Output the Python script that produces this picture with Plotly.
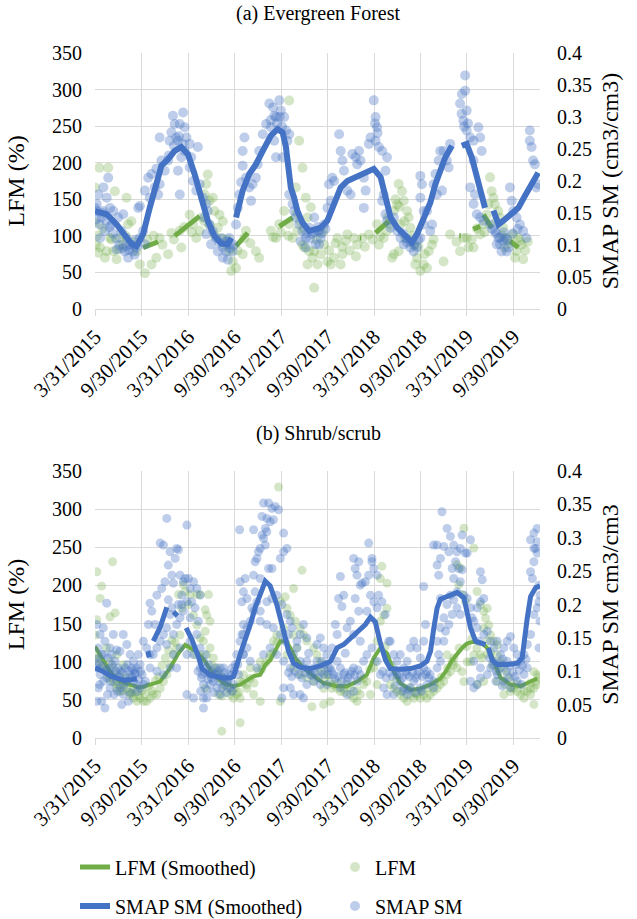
import pandas as pd
import plotly.graph_objects as go

START = pd.Timestamp("2015-03-31")
END_DAY = 1748

TICK_DATES = ["2015-03-31", "2015-09-30", "2016-03-31", "2016-09-30", "2017-03-31",
              "2017-09-30", "2018-03-31", "2018-09-30", "2019-03-31", "2019-09-30"]
TICK_TEXT = ["3/31/2015", "9/30/2015", "3/31/2016", "9/30/2016", "3/31/2017",
             "9/30/2017", "3/31/2018", "9/30/2018", "3/31/2019", "9/30/2019"]
LFM_TICKS = [0, 50, 100, 150, 200, 250, 300, 350]
SM_TICKS = [0, 0.05, 0.1, 0.15, 0.2, 0.25, 0.3, 0.35, 0.4]

# ---------------- Panel (a) Evergreen Forest ----------------
# (days since 3/31/2015, SMAP SM cm3/cm3)
A_SMAP_PTS = [(0,0.158),(7,0.164),(13,0.179),(33,0.190),(52,0.205),(46,0.174),(59,0.158),(26,0.143),(39,0.122),(20,0.111),(72,0.153),(65,0.132),(91,0.143),(111,0.148),(104,0.122),(124,0.111),(137,0.101),(85,0.093),(150,0.090),(130,0.080),(163,0.096),(176,0.111),(170,0.158),(189,0.122),(196,0.101),(156,0.085),(117,0.090),(7,0.153),(33,0.153),
(176,0.161),(196,0.185),(209,0.205),(222,0.211),(235,0.190),(248,0.179),(254,0.195),(215,0.174),(241,0.219),(261,0.232),(274,0.216),(287,0.232),(300,0.276),(306,0.302),(313,0.289),(319,0.268),(326,0.263),(293,0.263),(346,0.307),(352,0.284),(359,0.268),(333,0.289),(339,0.237),(326,0.216),(352,0.247),(372,0.258),(378,0.237),(404,0.253),(254,0.268),(333,0.179),(372,0.221),(385,0.200),(398,0.185),(411,0.195),(424,0.174),(437,0.164),(430,0.143),(443,0.153),(450,0.132),(463,0.122),(476,0.111),(489,0.104),(502,0.096),(515,0.090),(528,0.101),(502,0.080),(482,0.090),(456,0.101),(437,0.117),(522,0.077),(541,0.090),(528,0.111),(554,0.132),(561,0.158),(567,0.179),(574,0.198),(580,0.224),(580,0.247),(587,0.268),(593,0.205),(606,0.190),(613,0.169),(619,0.195),(632,0.205),(639,0.226),(645,0.247),(659,0.273),(672,0.289),(685,0.321),(704,0.302),(724,0.326),(730,0.310),(711,0.300),(691,0.284),(743,0.300),(750,0.279),(756,0.263),(763,0.273),(704,0.263),(711,0.237),(737,0.237),(763,0.179),(776,0.164),(782,0.153),(789,0.143),(802,0.132),(815,0.122),(828,0.111),(841,0.127),(854,0.117),(867,0.101),(880,0.122),(828,0.096),(808,0.106),
(861,0.143),(874,0.122),(887,0.111),(900,0.132),(880,0.101),(913,0.158),(926,0.169),(919,0.195),(932,0.205),(939,0.200),(959,0.273),(965,0.247),(972,0.232),(978,0.216),(991,0.185),(1004,0.179),(1011,0.242),(1024,0.237),(1030,0.226),(1037,0.247),(1043,0.232),(1056,0.205),(1063,0.185),(1056,0.158),(1076,0.258),(1082,0.268),(1095,0.326),(1102,0.300),(1108,0.284),(1102,0.263),(1115,0.253),(1128,0.247),(1147,0.237),(1141,0.216),(1134,0.179),(1128,0.169),(1141,0.148),(1147,0.138),(1161,0.127),(1174,0.143),(1187,0.122),(1200,0.111),(1213,0.101),(1226,0.104),(1239,0.096),(1252,0.090),(1265,0.096),(1278,0.111),(1291,0.132),(1278,0.174),(1284,0.195),(1278,0.208),(1291,0.153),(1304,0.153),(1317,0.122),(1324,0.132),(1330,0.195),(1337,0.211),(1350,0.232),(1356,0.247),(1369,0.247),(1382,0.232),(1395,0.258),(1389,0.221),(1363,0.185),(1343,0.179),(1434,0.321),(1441,0.336),(1454,0.365),(1454,0.341),(1460,0.310),(1447,0.294),(1460,0.279),(1474,0.268),(1487,0.263),(1506,0.284),(1513,0.268),(1519,0.247),(1487,0.232),(1474,0.190),(1493,0.179),(1487,0.164),(1500,0.148),(1513,0.143),(1526,0.138),(1552,0.132),(1571,0.122),(1584,0.111),(1591,0.101),(1604,0.106),(1617,0.090),(1630,0.190),(1637,0.169),(1643,0.153),(1656,0.143),(1669,0.132),(1682,0.122),(1695,0.111),(1708,0.279),(1708,0.263),(1715,0.253),(1721,0.232),(1728,0.226),(1734,0.190),(1741,0.195),(1578,0.101),(1597,0.090),(1610,0.111),(1624,0.096),
(5,0.140),(18,0.132),(28,0.150),(44,0.138),(57,0.128),(70,0.118),(83,0.110),(96,0.100),(109,0.095),(122,0.098),(135,0.092),(148,0.100),(160,0.108),(500,0.110),(515,0.105),(530,0.095),(545,0.100),(830,0.118),(845,0.110),(860,0.120),(875,0.128),(890,0.118),(905,0.125),(1210,0.118),(1225,0.110),(1240,0.105),(1255,0.100),(1270,0.108),(1560,0.125),(1575,0.118),(1590,0.112),(1605,0.120),(1620,0.108),(1640,0.118),(1660,0.125),(290,0.240),(310,0.255),(330,0.270),(345,0.258),(690,0.295),(700,0.315),(715,0.290),(725,0.300),(735,0.285),(1100,0.290),(1110,0.275),(1440,0.305),(1450,0.285),(1465,0.290)]

# (days, LFM %)
A_LFM_PTS = [(17,193),(52,193),(0,166),(78,161),(0,118),(3,88),(13,77),(39,70),(72,79),(85,68),(98,97),(124,152),(130,116),(143,120),(111,88),(163,79),(176,61),(196,49),(222,61),(241,70),(254,97),(287,75),(300,104),(333,107),(339,84),(372,129),(385,116),(398,97),(411,107),(430,120),(443,184),(437,171),(430,157),(450,148),(463,152),(469,134),(489,129),(502,120),(482,111),(496,97),(509,88),(528,79),(541,65),(554,56),(535,52),(580,75),(587,97),(593,107),(632,79),(645,70),(691,107),(711,97),(724,116),(743,134),(763,285),(802,230),(815,193),(789,166),(828,152),(835,125),(848,139),(795,107),(776,97),(815,88),(841,79),(854,70),(835,61),(861,29),(822,84),(763,116),(20,84),(59,97),(46,79),
(861,79),(874,61),(887,75),(900,88),(913,65),(926,61),(939,70),(965,61),(972,75),(952,97),(985,93),(991,102),(1017,97),(1030,88),(1050,97),(1076,102),(1108,116),(1115,88),(1134,97),(1147,107),(1161,116),(1174,134),(1193,171),(1206,161),(1187,143),(1213,148),(1226,134),(1232,125),(1239,111),(1219,97),(1200,116),(1174,75),(1167,70),(1193,79),(1252,88),(1265,70),(1278,52),(1291,61),(1304,56),(1258,61),(1311,79),(1324,88),(1369,65),(1395,102),(1434,79),(1447,97),(1460,97),(1467,84),(1487,84),(1513,102),(1526,116),(1539,129),(1552,180),(1558,161),(1565,152),(1545,143),(1571,143),(1584,134),(1591,125),(1604,111),(1617,97),(1610,84),(1643,102),(1656,79),(1669,93),(1676,88),(1650,70),(1682,68),(1663,97),
(8,100),(30,110),(65,95),(95,82),(120,100),(150,92),(205,95),(230,100),(265,88),(310,95),(350,112),(380,105),(420,125),(450,115),(470,100),(520,95),(560,80),(610,90),(700,98),(730,105),(760,100),(790,130),(805,120),(820,110),(870,95),(895,105),(920,80),(945,90),(970,85),(1000,80),(1025,72),(1060,85),(1090,95),(1120,100),(1150,125),(1180,150),(1195,140),(1215,120),(1245,100),(1270,85),(1295,75),(1330,95),(1420,92),(1480,95),(1500,110),(1530,105),(1575,120),(1600,100),(1630,90),(1690,80),(1700,92)]

A_SMAP_SMOOTH = [(0,0.153),(46,0.148),(85,0.132),(111,0.119),(143,0.102),(163,0.098),(189,0.117),(215,0.158),(241,0.195),(261,0.224),(287,0.234),(313,0.247),(339,0.253),(365,0.242),(391,0.211),(417,0.174),(443,0.138),(469,0.114),(496,0.102),(522,0.101),(535,0.111),(545,None),(554,0.143),(580,0.185),(606,0.211),(632,0.226),(659,0.247),(691,0.271),(717,0.281),(737,0.276),(750,0.253),(763,0.213),(769,0.190),(782,0.174),(795,0.153),(815,0.135),(841,0.122),(861,0.124),(887,0.127),(913,0.138),(939,0.164),(965,0.190),(991,0.200),(1030,0.207),(1063,0.213),(1095,0.219),(1122,0.206),(1141,0.174),(1161,0.143),(1187,0.127),(1219,0.114),(1245,0.104),(1265,0.117),(1291,0.143),(1317,0.166),(1337,0.195),(1356,0.216),(1376,0.237),(1402,0.255),(1420,None),(1441,0.255),(1460,0.258),(1480,0.237),(1500,0.208),(1519,0.179),(1532,0.158),(1548,None),(1565,0.154),(1585,0.132),(1604,0.138),(1630,0.148),(1663,0.158),(1689,0.177),(1715,0.195),(1741,0.213)]

A_LFM_SMOOTH = [(189,84),(215,87),(248,92),(280,None),(313,100),(340,108),(370,117),(411,127),(480,None),(554,86),(580,95),(600,104),(660,None),(724,113),(750,119),(776,125),(900,None),(1040,97),(1046,97),(1070,None),(1102,104),(1128,112),(1154,120),(1300,None),(1431,100),(1437,100),(1460,None),(1486,109),(1513,113),(1519,None),(1526,129),(1558,111),(1600,None),(1630,93),(1663,84)]

# ---------------- Panel (b) Shrub/scrub ----------------
B_SMAP_PTS = [(7,0.170),(20,0.155),(33,0.165),(46,0.202),(13,0.135),(26,0.125),(39,0.145),(59,0.135),(72,0.155),(85,0.132),(98,0.130),(111,0.155),(125,0.140),(138,0.125),(151,0.115),(164,0.105),(170,0.125),(177,0.110),(7,0.105),(20,0.095),(33,0.085),(13,0.075),(26,0.055),(39,0.045),(7,0.055),(59,0.105),(72,0.095),(85,0.085),(98,0.075),(111,0.065),(105,0.050),(125,0.085),(138,0.095),(151,0.085),(164,0.080),(177,0.075),(131,0.055),(59,0.075),(46,0.090),(79,0.115),(92,0.105),(118,0.105),(144,0.105),(157,0.095),(52,0.120),(66,0.125),
(190,0.145),(203,0.135),(216,0.125),(210,0.170),(216,0.202),(223,0.190),(236,0.170),(243,0.214),(256,0.292),(269,0.289),(282,0.329),(288,0.259),(295,0.279),(302,0.244),(308,0.232),(315,0.269),(321,0.284),(328,0.282),(334,0.244),(341,0.214),(347,0.234),(354,0.239),(361,0.319),(367,0.239),(374,0.224),(380,0.204),(387,0.234),(393,0.195),(400,0.224),(406,0.175),(413,0.214),(374,0.180),(361,0.204),(347,0.190),(334,0.180),(321,0.170),(308,0.155),(295,0.185),(282,0.165),(269,0.155),(256,0.145),(243,0.135),(229,0.125),(282,0.140),(308,0.125),(334,0.135),(361,0.125),(216,0.105),(243,0.100),(269,0.095),(295,0.105),(321,0.105),(374,0.145),(387,0.125),(400,0.155),(413,0.135),(361,0.065),(387,0.060),(426,0.060),(439,0.060),(426,0.045),(262,0.224),(275,0.234),(288,0.207),(302,0.195),(328,0.200),(341,0.200),
(426,0.115),(439,0.105),(452,0.095),(465,0.085),(479,0.095),(492,0.105),(505,0.090),(518,0.085),(531,0.075),(544,0.080),(433,0.125),(446,0.110),(459,0.100),(472,0.105),(485,0.085),(498,0.075),(511,0.080),(524,0.095),(538,0.105),(551,0.110),(557,0.125),(570,0.145),(577,0.155),(583,0.170),(577,0.204),(570,0.234),(568,0.312),(583,0.125),(564,0.095),(420,0.095),(426,0.080),(413,0.105),(452,0.080),(479,0.075),(505,0.105),
(583,0.155),(597,0.165),(610,0.175),(623,0.190),(636,0.204),(629,0.219),(623,0.244),(636,0.269),(642,0.279),(649,0.284),(662,0.299),(656,0.332),(662,0.352),(682,0.352),(695,0.344),(708,0.347),(721,0.342),(675,0.329),(688,0.324),(701,0.327),(669,0.314),(675,0.309),(656,0.304),(623,0.312),(741,0.307),(728,0.269),(741,0.279),(754,0.284),(669,0.289),(682,0.254),(695,0.254),(649,0.239),(629,0.264),(590,0.239),(583,0.219),(597,0.209),(616,0.195),(649,0.190),(675,0.204),(695,0.209),(714,0.214),(734,0.200),(754,0.185),(767,0.175),(774,0.165),(760,0.155),(747,0.145),(728,0.155),(701,0.165),(675,0.170),(649,0.175),(597,0.135),(583,0.125),(610,0.115),(636,0.105),(662,0.125),(688,0.135),(714,0.125),(741,0.115),(767,0.105),(780,0.125),(793,0.135),(806,0.115),(819,0.105),(832,0.115),(846,0.095),(859,0.105),(872,0.115),(885,0.150),(898,0.135),(911,0.125),(924,0.105),(937,0.095),(951,0.115),(964,0.105),(977,0.095),(990,0.085),(1003,0.095),(1016,0.105),(741,0.075),(767,0.075),(780,0.065),(806,0.065),(819,0.060),(734,0.060),(832,0.080),(859,0.085),(885,0.080),(911,0.080),(964,0.075),(990,0.065),(1016,0.070),(1029,0.085),(1042,0.095),(1055,0.115),(1068,0.125),(1088,0.135),(1108,0.115),(1121,0.095),(1134,0.075),(1147,0.065),(964,0.242),(977,0.214),(957,0.209),(970,0.197),(1016,0.269),(1022,0.254),(1036,0.264),(1029,0.244),(1042,0.229),(1049,0.232),(1062,0.234),(1075,0.244),(1095,0.254),(1088,0.269),(1108,0.244),(1082,0.214),(1095,0.204),(1108,0.195),(1068,0.190),(1036,0.190),(1022,0.209),(1003,0.175),(990,0.165),(1016,0.155),(1042,0.145),(1075,0.292),(1088,0.264),(1114,0.214),(1127,0.204),(1140,0.185),(1154,0.145),(944,0.170),(951,0.155),(931,0.135),(983,0.127),(832,0.150),(872,0.140),(839,0.127),(793,0.145),(806,0.155),(819,0.170),(892,0.115),(898,0.095),(918,0.095),
(1160,0.145),(1173,0.125),(1186,0.115),(1199,0.125),(1213,0.105),(1226,0.115),(1239,0.135),(1252,0.145),(1265,0.135),(1278,0.120),(1291,0.145),(1298,0.170),(1291,0.227),(1186,0.095),(1199,0.085),(1226,0.095),(1252,0.085),(1265,0.095),(1291,0.105),(1304,0.100),(1317,0.095),(1330,0.085),(1213,0.075),(1239,0.075),(1278,0.075),(1304,0.080),(1173,0.065),(1226,0.065),(1330,0.075),(1344,0.105),(1357,0.115),(1344,0.145),(1350,0.125),(1370,0.145),(1357,0.165),(1370,0.180),(1383,0.200),(1396,0.214),(1409,0.207),(1422,0.195),(1435,0.185),(1403,0.185),(1390,0.170),(1377,0.160),(1357,0.209),(1344,0.259),(1350,0.244),(1357,0.269),(1330,0.289),(1344,0.289),(1363,0.339),(1383,0.314),(1396,0.302),(1409,0.289),(1370,0.287),(1390,0.279),(1403,0.254),(1416,0.264),(1422,0.279),(1435,0.284),(1442,0.304),(1455,0.277),(1462,0.277),(1475,0.297),(1429,0.254),(1442,0.252),(1409,0.239),(1435,0.234),(1422,0.219),(1449,0.214),(1462,0.209),(1475,0.195),(1481,0.180),(1488,0.175),(1501,0.195),(1514,0.204),(1527,0.209),(1514,0.249),(1521,0.237),(1501,0.165),(1508,0.145),(1527,0.155),(1541,0.160),(1554,0.145),(1567,0.135),(1580,0.145),(1593,0.125),(1606,0.135),(1619,0.145),(1632,0.152),(1645,0.135),(1658,0.125),(1672,0.115),(1685,0.125),(1698,0.140),(1711,0.155),(1724,0.185),(1737,0.195),(1744,0.204),(1748,0.175),(1744,0.135),(1711,0.249),(1718,0.239),(1724,0.264),(1737,0.277),(1731,0.284),(1737,0.294),(1724,0.307),(1737,0.314),(1711,0.297),(1724,0.284),(1744,0.229),(1748,0.214),(1554,0.105),(1580,0.095),(1606,0.085),(1632,0.075),(1658,0.085),(1685,0.095),(1698,0.105),(1488,0.115),(1514,0.105),(1541,0.095),(1475,0.085),(1488,0.075),(1501,0.080),(1514,0.090),(1567,0.115),(1593,0.105),(1619,0.115),
(3,0.118),(16,0.112),(29,0.108),(42,0.102),(55,0.098),(68,0.110),(81,0.100),(94,0.092),(107,0.098),(120,0.088),(133,0.100),(146,0.092),(159,0.098),(172,0.088),(185,0.095),(198,0.085),(36,0.125),(62,0.085),(88,0.070),(114,0.078),(140,0.068),(166,0.070),(192,0.080),(18,0.080),(49,0.065),(75,0.065),(101,0.100),(127,0.110),(153,0.102),(179,0.100),
(405,0.100),(418,0.090),(431,0.098),(444,0.088),(457,0.090),(470,0.095),(483,0.100),(496,0.092),(509,0.098),(522,0.088),(535,0.094),(548,0.100),(561,0.110),(415,0.070),(440,0.072),(466,0.068),(492,0.065),(517,0.068),(540,0.070),
(760,0.098),(773,0.092),(786,0.100),(799,0.095),(812,0.090),(825,0.098),(838,0.102),(851,0.094),(864,0.098),(877,0.090),(890,0.100),(903,0.110),(916,0.105),(929,0.100),(942,0.088),(955,0.092),(968,0.085),(981,0.098),(994,0.090),(1007,0.100),(1020,0.094),(1033,0.102),
(1130,0.100),(1143,0.090),(1156,0.098),(1169,0.092),(1182,0.100),(1195,0.095),(1208,0.090),(1221,0.100),(1234,0.092),(1247,0.098),(1260,0.090),(1273,0.100),(1286,0.092),(1299,0.095),(1312,0.090),(1179,0.078),(1205,0.070),(1231,0.072),(1257,0.068),(1283,0.070),
(1550,0.120),(1563,0.110),(1576,0.100),(1589,0.112),(1602,0.118),(1615,0.100),(1628,0.108),(1641,0.098),(1654,0.110),(1667,0.102),(1680,0.108),(1693,0.118),(1575,0.085),(1600,0.078),(1625,0.090),(1650,0.092),(1675,0.080)]

B_LFM_PTS = [(7,218),(69,231),(26,199),(20,183),(79,164),(59,159),(7,155),(0,135),(13,100),(33,92),(52,83),(72,74),(85,65),(98,61),(111,70),(125,65),(138,57),(151,52),(164,48),(177,52),(190,48),(203,48),(216,52),(229,57),(243,57),(256,65),(269,74),(282,83),(295,96),(308,109),(321,118),(334,135),(341,170),(328,188),(347,201),(354,192),(374,188),(400,188),(413,188),(433,168),(439,161),(446,188),(452,153),(433,140),(426,127),(413,131),(400,148),(387,161),(367,175),(374,118),(393,109),(413,109),(439,109),(452,118),(465,105),(479,92),(492,83),(505,74),(518,65),(531,57),(544,52),(557,57),(570,52),(485,57),(498,55),(433,65),(498,9),(570,20),(59,100),(72,92),(98,83),(125,79),(151,65),(46,118),(85,109),(111,96),
(721,329),(813,220),(780,196),(747,185),(728,179),(754,170),(767,161),(787,153),(806,144),(819,135),(832,127),(780,135),(793,118),(741,144),(714,135),(701,127),(688,109),(649,100),(610,92),(583,83),(570,74),(597,65),(623,57),(649,48),(728,48),(859,118),(872,109),(885,100),(898,92),(911,83),(924,74),(937,70),(951,65),(964,61),(977,65),(990,70),(1003,57),(1016,52),(1029,48),(1042,57),(852,41),(898,44),(924,48),(1095,92),(1108,127),(1121,153),(1134,161),(1147,170),(1127,225),(1147,203),(1121,209),(1108,70),(1082,57),(1055,70),(1068,74),(754,109),(780,92),(806,83),(832,79),(859,74),(898,65),
(1449,275),(1488,249),(1422,227),(1435,223),(1429,201),(1442,188),(1455,179),(1501,192),(1514,175),(1527,166),(1534,157),(1547,148),(1554,135),(1567,127),(1580,122),(1527,144),(1541,127),(1554,113),(1580,109),(1593,100),(1606,92),(1619,83),(1632,74),(1645,65),(1658,61),(1672,57),(1685,52),(1698,61),(1711,65),(1724,87),(1731,74),(1737,83),(1724,65),(1711,57),(1632,61),(1606,57),(1580,74),(1488,109),(1514,109),(1475,100),(1462,100),(1422,92),(1409,96),(1396,87),(1383,83),(1370,74),(1357,70),(1344,65),(1330,61),(1317,57),(1304,52),(1291,57),(1278,52),(1265,57),(1252,52),(1239,57),(1226,48),(1213,52),(1199,57),(1186,61),(1173,65),(1160,70),(1383,109),(1403,100),(1501,70),(1527,74),(1724,44),(1541,170),(1449,74),(1442,87),
(3,110),(16,105),(29,95),(42,88),(55,78),(68,80),(81,72),(94,70),(107,62),(120,72),(133,60),(146,58),(159,60),(172,56),(185,62),(198,58),(211,68),(224,62),(237,75),(250,80),(263,95),(276,105),(289,115),(302,128),(315,125),
(460,95),(475,85),(490,78),(505,68),(520,72),(535,62),(550,66),(565,60),(580,72),(595,70),(610,78),(625,72),(640,88),(655,90),(670,98),(685,105),(700,112),(715,125),
(880,85),(905,80),(930,65),(955,72),(980,60),(1005,66),(1030,62),(1055,78),(1080,90),(1100,100),(1140,120),(1165,95),(1185,78),(1210,62),(1235,66),(1260,58),(1285,62),(1310,66),(1335,72),(1360,80),(1385,92),(1410,105),(1430,118),(1460,120),(1480,130),(1500,118),(1520,105),(1540,110),(1560,95),(1585,88),(1610,70),(1635,66),(1660,70),(1685,62),(1710,72),(1735,70),(1745,80)]

B_SMAP_SMOOTH = [(0,0.105),(30,0.100),(59,0.093),(85,0.089),(111,0.087),(138,0.087),(164,0.089),(186,None),(207,0.130),(214,0.121),(220,None),(229,0.145),(256,0.166),(282,0.196),(295,None),(308,0.189),(324,0.183),(340,None),(358,0.165),(380,0.148),(406,0.122),(420,0.104),(452,0.094),(480,0.091),(505,0.090),(530,0.090),(544,0.092),(570,0.125),(590,0.145),(610,0.170),(630,0.196),(649,0.214),(669,0.235),(688,0.228),(714,0.200),(741,0.160),(760,0.130),(780,0.112),(806,0.106),(846,0.104),(885,0.108),(925,0.115),(951,0.135),(977,0.140),(1003,0.150),(1043,0.165),(1062,0.170),(1082,0.181),(1101,0.174),(1121,0.142),(1141,0.117),(1160,0.104),(1199,0.103),(1239,0.104),(1278,0.108),(1304,0.115),(1318,0.130),(1331,0.165),(1344,0.195),(1357,0.208),(1390,0.213),(1423,0.218),(1449,0.210),(1475,0.165),(1495,0.145),(1514,0.142),(1534,0.140),(1540,None),(1545,0.135),(1560,0.117),(1580,0.110),(1620,0.110),(1660,0.112),(1678,0.120),(1698,0.180),(1711,0.212),(1731,0.225),(1748,0.228)]

B_LFM_SMOOTH = [(0,120),(33,102),(59,87),(98,74),(138,70),(177,66),(216,70),(256,74),(295,92),(328,111),(354,122),(374,118),(400,113),(433,100),(465,83),(505,72),(544,68),(570,70),(597,76),(623,81),(649,83),(669,96),(688,102),(714,118),(728,127),(754,126),(787,105),(819,92),(859,81),(898,72),(951,68),(990,68),(1029,74),(1068,83),(1095,105),(1121,118),(1147,111),(1173,88),(1199,72),(1239,63),(1278,65),(1317,70),(1357,78),(1377,87),(1403,102),(1442,118),(1462,124),(1488,126),(1521,124),(1547,116),(1567,100),(1593,79),(1632,70),(1672,68),(1711,74),(1737,78)]

# ---------------- styling ----------------
FONT = "Liberation Serif"
GREEN = "#70AD47"
BLUE = "#4472C4"
GREEN_PT = "rgba(112,173,71,0.30)"
BLUE_PT = "rgba(68,114,196,0.35)"
GRID = "#d9d9d9"
W, H = 637, 919


def dates(pts):
    return [START + pd.Timedelta(days=d) for d, _ in pts]


def vals(pts):
    return [v for _, v in pts]


fig = go.Figure()


def add_panel(xa, ya_l, ya_r, lfm_pts, smap_pts, lfm_s, smap_s, show, msize, lw):
    fig.add_trace(go.Scatter(x=dates(lfm_pts), y=vals(lfm_pts), mode="markers", name="LFM",
                             xaxis=xa, yaxis=ya_l, showlegend=show, legend="legend2",
                             marker=dict(size=msize, color=GREEN_PT, line=dict(width=0))))
    fig.add_trace(go.Scatter(x=dates(smap_pts), y=vals(smap_pts), mode="markers", name="SMAP SM",
                             xaxis=xa, yaxis=ya_r, showlegend=show, legend="legend4",
                             marker=dict(size=msize, color=BLUE_PT, line=dict(width=0))))
    fig.add_trace(go.Scatter(x=dates(lfm_s), y=vals(lfm_s), mode="lines", name="LFM (Smoothed)",
                             xaxis=xa, yaxis=ya_l, showlegend=show, legend="legend",
                             connectgaps=False, line=dict(color=GREEN, width=lw - 1)))
    fig.add_trace(go.Scatter(x=dates(smap_s), y=vals(smap_s), mode="lines", name="SMAP SM (Smoothed)",
                             xaxis=xa, yaxis=ya_r, showlegend=show, legend="legend3",
                             connectgaps=False, line=dict(color=BLUE, width=lw)))


add_panel("x", "y", "y2", A_LFM_PTS, A_SMAP_PTS, A_LFM_SMOOTH, A_SMAP_SMOOTH, True, 10, 6)
add_panel("x2", "y3", "y4", B_LFM_PTS, B_SMAP_PTS, B_LFM_SMOOTH, B_SMAP_SMOOTH, False, 9, 5)

XDOM = [95 / W, 540 / W]
A_DOM = [1 - 309 / H, 1 - 53 / H]
B_DOM = [1 - 738 / H, 1 - 471 / H]
XRANGE = [START, START + pd.Timedelta(days=END_DAY)]


def xaxis(anchor):
    return dict(domain=XDOM, anchor=anchor, type="date", range=XRANGE, automargin=False,
                tickmode="array", tickvals=TICK_DATES, ticktext=TICK_TEXT, tickangle=-45,
                showgrid=True, gridcolor=GRID, gridwidth=1.3, showline=True, linecolor=GRID,
                linewidth=1.3, ticks="outside", ticklen=6, tickcolor=GRID, tickwidth=1.3,
                tickfont=dict(family=FONT, size=21, color="black"), zeroline=False)


def yleft(dom, anchor, title):
    return dict(domain=dom, anchor=anchor, range=[0, 350], tickmode="array", tickvals=LFM_TICKS,
                automargin=False, showgrid=True, gridcolor=GRID, gridwidth=1.3, zeroline=False,
                showline=False, ticks="", ticklabelstandoff=12,
                tickfont=dict(family=FONT, size=20, color="black"),
                title=dict(text=title, font=dict(family=FONT, size=24, color="black"), standoff=20))


def yright(overlay, anchor, title):
    return dict(overlaying=overlay, anchor=anchor, side="right", range=[0, 0.4],
                tickmode="array", tickvals=SM_TICKS, showgrid=False, zeroline=False, showline=False,
                automargin=False, ticks="", ticklabelstandoff=16,
                tickfont=dict(family=FONT, size=20, color="black"),
                title=dict(text=title, font=dict(family=FONT, size=24, color="black"), standoff=10))


def legend_box(x_px, y_px):
    return dict(x=x_px / W, y=1 - y_px / H, xanchor="left", yanchor="middle",
                font=dict(family=FONT, size=20, color="black"), bgcolor="rgba(0,0,0,0)",
                borderwidth=0)


fig.update_layout(
    width=W, height=H, margin=dict(l=0, r=0, t=0, b=0, autoexpand=False),
    paper_bgcolor="white", plot_bgcolor="white",
    font=dict(family=FONT, size=20, color="black"),
    xaxis=xaxis("y"), yaxis=yleft(A_DOM, "x", "LFM (%)"), yaxis2=yright("y", "x", "SMAP SM (cm3/cm3)"),
    xaxis2=xaxis("y3"), yaxis3=yleft(B_DOM, "x2", "LFM (%)"), yaxis4=yright("y3", "x2", "SMAP SM cm3/cm3"),
    legend=legend_box(75, 867),
    legend2=legend_box(335, 867),
    legend3=legend_box(75, 906),
    legend4=legend_box(335, 906),
    annotations=[
        dict(text="(a) Evergreen Forest", x=318 / W, y=1 - 14 / H, xref="paper", yref="paper",
             xanchor="center", yanchor="middle", showarrow=False,
             font=dict(family=FONT, size=20, color="black")),
        dict(text="(b) Shrub/scrub", x=318 / W, y=1 - 433 / H, xref="paper", yref="paper",
             xanchor="center", yanchor="middle", showarrow=False,
             font=dict(family=FONT, size=20, color="black")),
    ],
)

fig.write_html("out.html", config={"displayModeBar": False},
               post_script="document.body.style.margin='0';document.body.style.overflow='hidden';")
